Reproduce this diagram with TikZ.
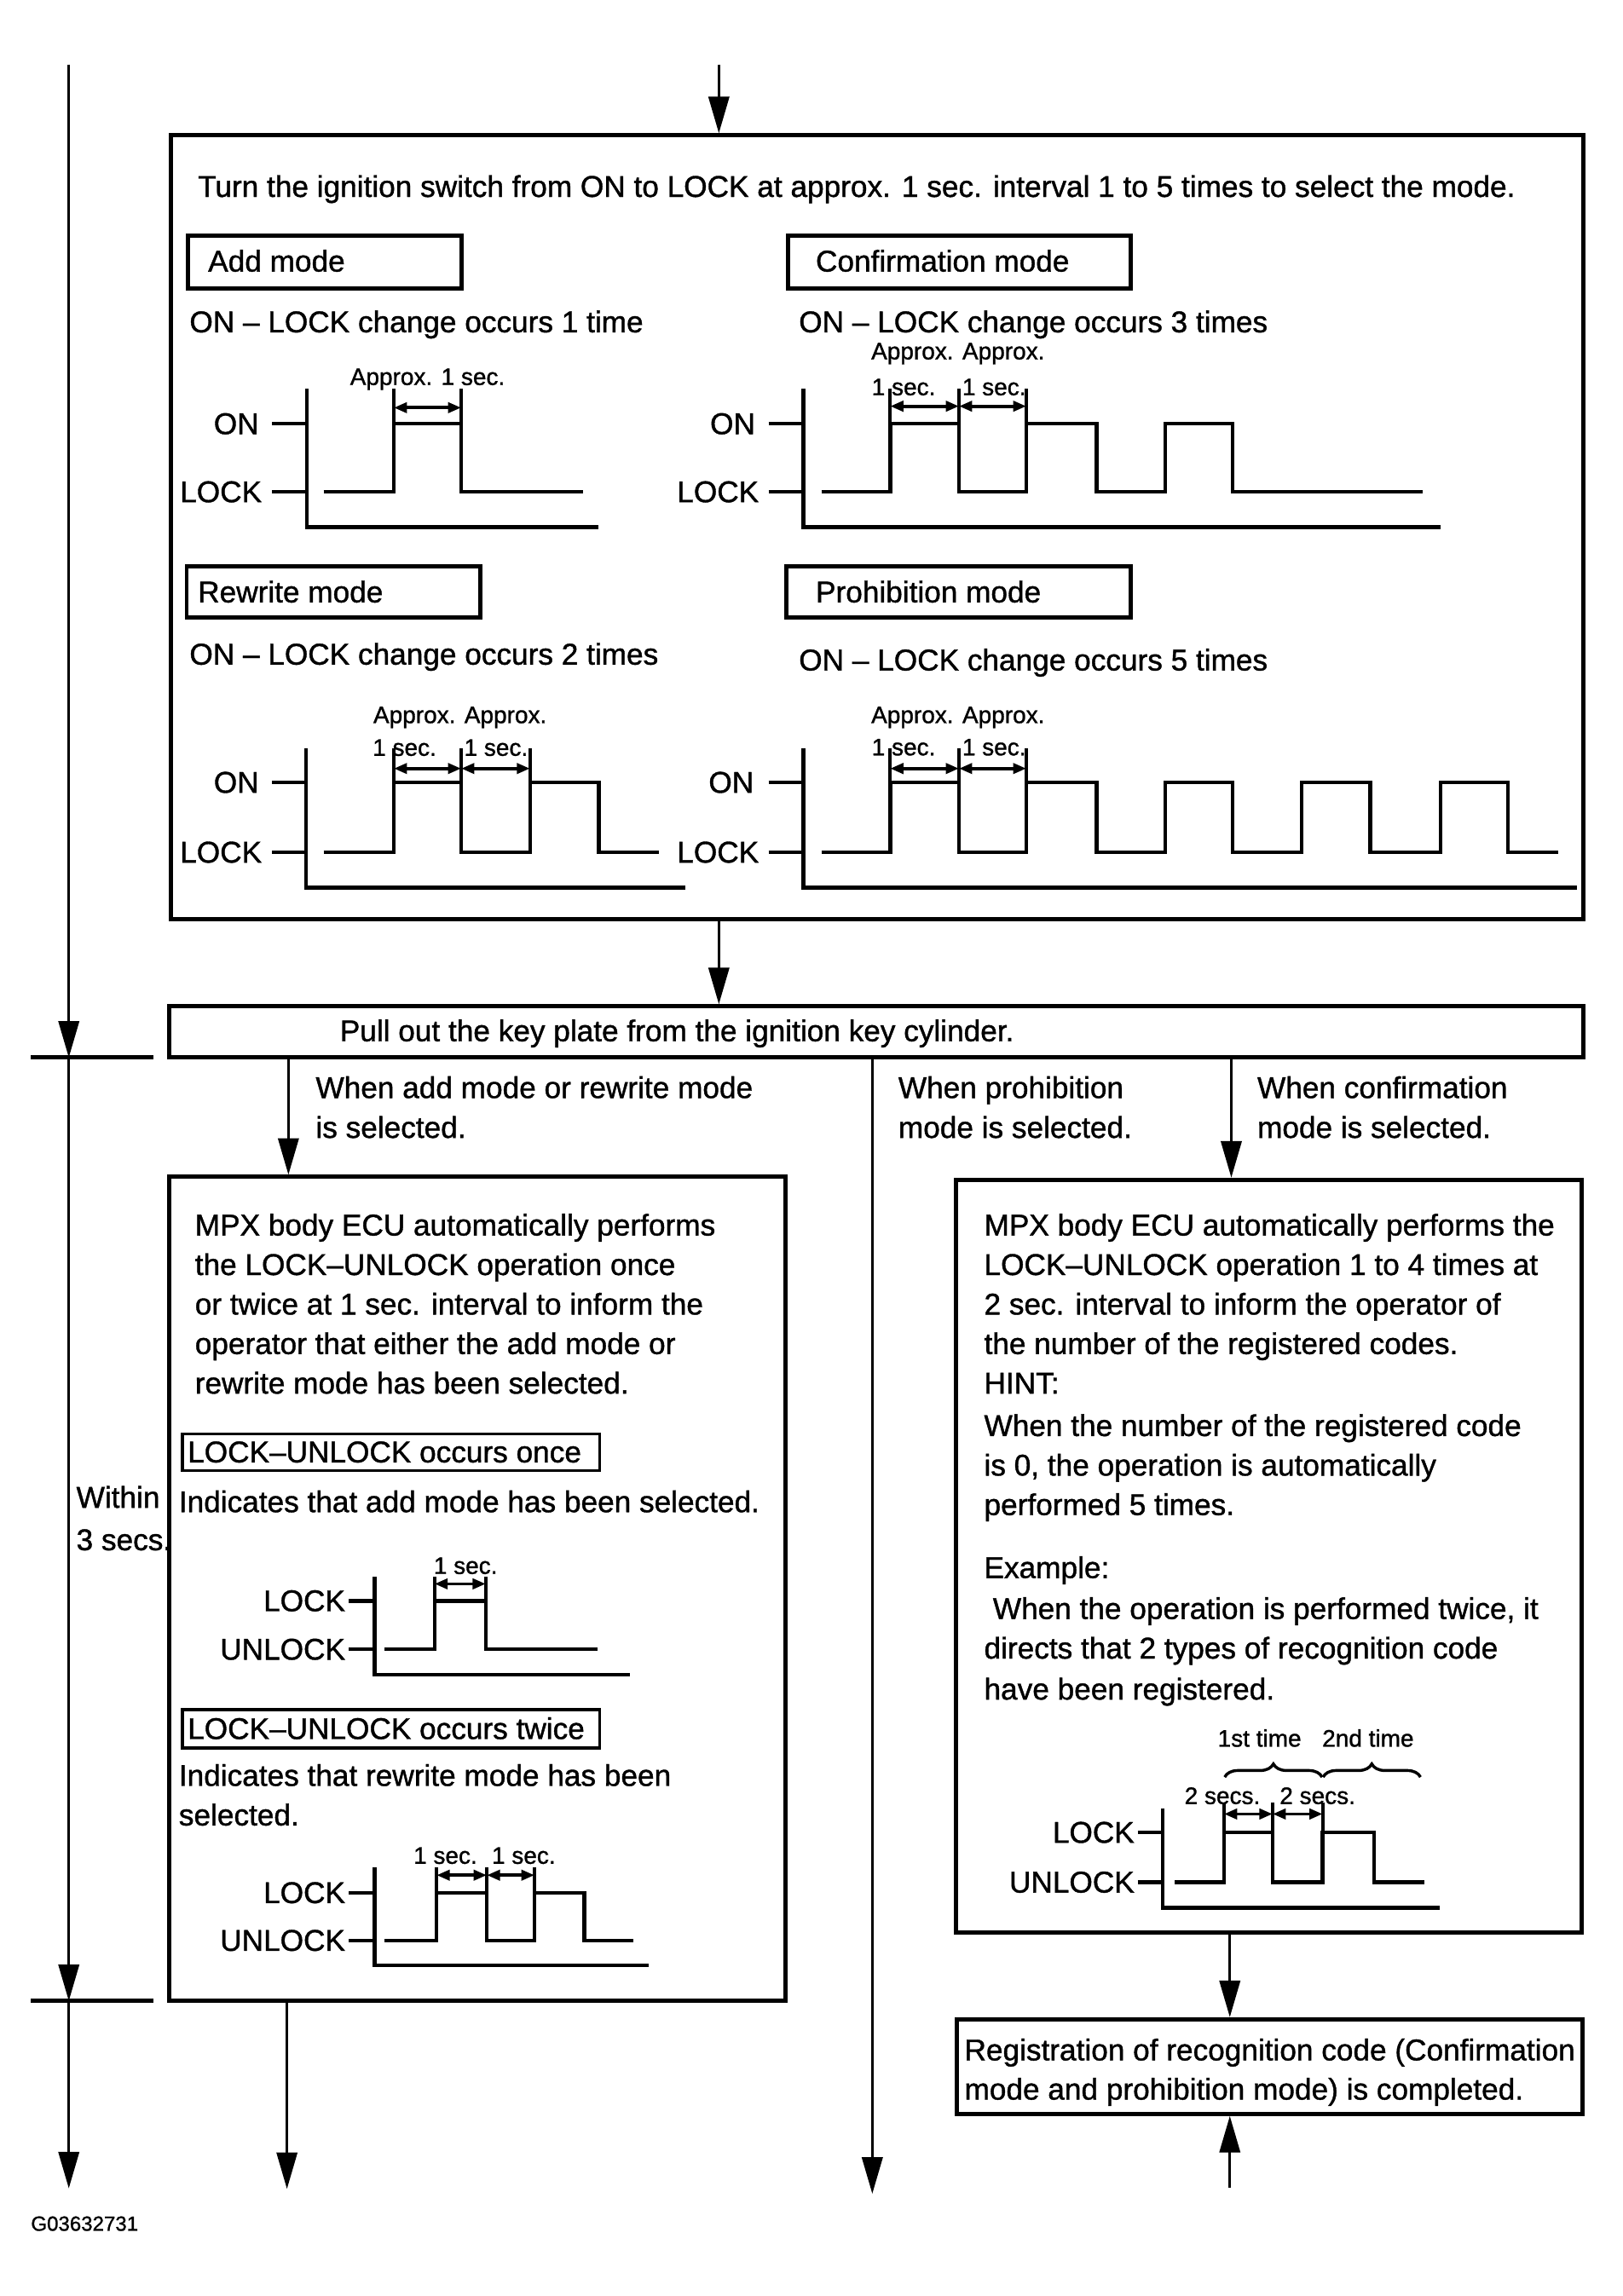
\documentclass[tikz,border=0pt]{standalone}
\usepackage{fontspec}
\setmainfont{Liberation Sans}[FakeBold=1.1]
\usetikzlibrary{arrows.meta,decorations.pathreplacing,calc}
\tikzset{
 txt/.style={font=\fontsize{20.5}{27}\selectfont, inner sep=0pt, anchor=base west},
 lbl/.style={font=\fontsize{16.3}{19}\selectfont, inner sep=0pt, anchor=base},
 wlbl/.style={font=\fontsize{20.5}{24}\selectfont, inner sep=0pt, anchor=east},
 idlbl/.style={font=\fontsize{14}{16}\selectfont, inner sep=0pt, anchor=base west},
 box/.style={draw, line width=2.9pt, inner sep=0pt, rectangle},
 sbox/.style={draw, line width=2pt, inner sep=0pt, rectangle},
 conn/.style={line width=2pt},
 arr/.style={conn, -{Triangle[length=25pt,width=14pt]}},
 tick/.style={line width=2.9pt},
 wave/.style={line width=2.6pt, line join=miter},
 dimarr/.style={line width=2.2pt, {Triangle[length=9pt,width=7pt]}-{Triangle[length=9pt,width=7pt]}},
 ext/.style={line width=2.2pt},
 brc/.style={line width=2pt, decorate, decoration={brace, amplitude=9pt}},
}
\begin{document}
\begin{tikzpicture}[x=1pt,y=-1pt]
\fill[white] (0,0) rectangle (1108,1568.5);
\useasboundingbox (0,0) rectangle (1108,1568.5);

% ---------- boxes ----------
\node[box, minimum width=965pt, minimum height=535.5pt] (main) at (599,360.25) {};
\node[box, minimum width=966pt, minimum height=35pt] (key) at (598.5,705) {};
\node[box, minimum width=421pt, minimum height=563pt] (lbox) at (326,1085.5) {};
\node[box, minimum width=427.5pt, minimum height=514pt] (rbox) at (866.75,1063) {};
\node[box, minimum width=427.5pt, minimum height=64.5pt] (reg) at (867.25,1411.75) {};
\node[box, minimum width=187pt, minimum height=36pt] (addb) at (222,179) {};
\node[box, minimum width=234.5pt, minimum height=36pt] (confb) at (655.25,179) {};
\node[box, minimum width=200.5pt, minimum height=35pt] (rewb) at (227.75,404.5) {};
\node[box, minimum width=235.5pt, minimum height=35pt] (prob) at (654.75,404.5) {};
\node[sbox, minimum width=285pt, minimum height=25pt] (onceb) at (267,992) {};
\node[sbox, minimum width=285pt, minimum height=26pt] (twiceb) at (267,1181) {};

% ---------- connectors ----------
\coordinate (L0) at (47,44);
\coordinate (L1) at (47,722.5);
\coordinate (L2) at (47,1367);
\coordinate (L3) at (47,1495);
\draw[arr] (L0) -- (L1);
\draw[arr] (L1) -- (L2);
\draw[arr] (L2) -- (L3);
\coordinate (T1a) at (21,722.5);
\coordinate (T1b) at (105,722.5);
\coordinate (T2a) at (21,1367);
\coordinate (T2b) at (105,1367);
\draw[tick] (T1a) -- (T1b);
\draw[tick] (T2a) -- (T2b);

\coordinate (top) at (491,44);
\draw[arr] (top) -- (top |- main.north);
\draw[arr] (top |- main.south) -- (top |- key.north);

\coordinate (xa) at (197,0);
\coordinate (xp) at (595.8,1498.7);
\coordinate (xr) at (841,0);
\draw[arr] (xa |- key.south) -- (xa |- lbox.north);
\draw[arr] (xp |- key.south) -- (xp);
\draw[arr] (xr |- key.south) -- (xr |- rbox.north);

\coordinate (lb) at (196,1495.4);
\draw[arr] (lb |- lbox.south) -- (lb);
\coordinate (xr2) at (840,0);
\draw[arr] (xr2 |- rbox.south) -- (xr2 |- reg.north);
\coordinate (R0) at (840,1494.4);
\draw[arr] (R0) -- (R0 |- reg.south);

% ---------- texts: main box ----------
\node[txt] (t0) at (135,134.5) {Turn the ignition switch from ON to LOCK at approx. 1 sec. interval 1 to 5 times to select the mode.};
\node[txt] (t1) at (142,185.5) {Add mode};
\node[txt] (t2) at (557,185.5) {Confirmation mode};
\node[txt] (t3) at (129.3,227) {ON -- LOCK change occurs 1 time};
\node[txt] (t4) at (545.5,227) {ON -- LOCK change occurs 3 times};
\node[txt] (t5) at (135,411.5) {Rewrite mode};
\node[txt] (t6) at (557,411.5) {Prohibition mode};
\node[txt] (t7) at (129.3,454) {ON -- LOCK change occurs 2 times};
\node[txt] (t8) at (545.5,458) {ON -- LOCK change occurs 5 times};

% ---------- waveform 1: add ----------
\node[wlbl] (w1on) at (177,289.5) {ON};
\node[wlbl] (w1lk) at (179,336) {LOCK};
\draw[wave] (209.5,265.5) -- (209.5,360) -- (409,360);
\draw[wave] (186,289.5) -- (209.5,289.5);
\draw[wave] (186,336) -- (209.5,336);
\draw[wave] (221,336) -- (269,336) -- (269,289.5) -- (315,289.5) -- (315,336) -- (398,336);
\draw[ext] (269,289.5) -- (269,265.5);
\draw[ext] (315,289.5) -- (315,265.5);
\draw[dimarr] (269,278.5) -- (315,278.5);
\node[lbl] (w1a) at (292,263) {Approx. 1 sec.};

% ---------- waveform 2: confirmation ----------
\node[wlbl] (w2on) at (516,289.5) {ON};
\node[wlbl] (w2lk) at (518.5,336) {LOCK};
\draw[wave] (548.6,265.5) -- (548.6,360) -- (983.7,360);
\draw[wave] (525,289.5) -- (548.6,289.5);
\draw[wave] (525,336) -- (548.6,336);
\draw[wave] (561,336) -- (608,336) -- (608,289.5) -- (655,289.5) -- (655,336) -- (701,336) -- (701,289.5) -- (749,289.5) -- (749,336) -- (796,336) -- (796,289.5) -- (842,289.5) -- (842,336) -- (972,336);
\draw[ext] (608,289.5) -- (608,265.5);
\draw[ext] (655,289.5) -- (655,265.5);
\draw[ext] (701,289.5) -- (701,265.5);
\draw[dimarr] (608,277.5) -- (655,277.5);
\draw[dimarr] (655,277.5) -- (701,277.5);
\node[lbl] (w2a) at (654.3,245.5) {Approx. Approx.};
\node[lbl] (w2b) at (617.2,270) {1 sec.};
\node[lbl] (w2c) at (679,270) {1 sec.};

% ---------- waveform 3: rewrite ----------
\node[wlbl] (w3on) at (177,534.5) {ON};
\node[wlbl] (w3lk) at (179,582.2) {LOCK};
\draw[wave] (209,511.4) -- (209,606.5) -- (468,606.5);
\draw[wave] (186,534.5) -- (209,534.5);
\draw[wave] (186,582.2) -- (209,582.2);
\draw[wave] (221,582.2) -- (269,582.2) -- (269,534.5) -- (315,534.5) -- (315,582.2) -- (362,582.2) -- (362,534.5) -- (409,534.5) -- (409,582.2) -- (450,582.2);
\draw[ext] (269,534.5) -- (269,511.4);
\draw[ext] (315,534.5) -- (315,511.4);
\draw[ext] (362,534.5) -- (362,511.4);
\draw[dimarr] (269,525) -- (315,525);
\draw[dimarr] (315,525) -- (362,525);
\node[lbl] (w3a) at (314.2,494) {Approx. Approx.};
\node[lbl] (w3b) at (276.3,516.3) {1 sec.};
\node[lbl] (w3c) at (338.8,516.3) {1 sec.};

% ---------- waveform 4: prohibition ----------
\node[wlbl] (w4on) at (515,534.5) {ON};
\node[wlbl] (w4lk) at (518.5,582.2) {LOCK};
\draw[wave] (548.6,511.4) -- (548.6,606.5) -- (1077,606.5);
\draw[wave] (525,534.5) -- (548.6,534.5);
\draw[wave] (525,582.2) -- (548.6,582.2);
\draw[wave] (561,582.2) -- (608,582.2) -- (608,534.5) -- (655,534.5) -- (655,582.2) -- (701,582.2) -- (701,534.5) -- (749,534.5) -- (749,582.2) -- (796,582.2) -- (796,534.5) -- (842,534.5) -- (842,582.2) -- (889,582.2) -- (889,534.5) -- (936,534.5) -- (936,582.2) -- (984,582.2) -- (984,534.5) -- (1030,534.5) -- (1030,582.2) -- (1064,582.2);
\draw[ext] (608,534.5) -- (608,511.4);
\draw[ext] (655,534.5) -- (655,511.4);
\draw[ext] (701,534.5) -- (701,511.4);
\draw[dimarr] (608,525) -- (655,525);
\draw[dimarr] (655,525) -- (701,525);
\node[lbl] (w4a) at (654.3,494) {Approx. Approx.};
\node[lbl] (w4b) at (617.2,516) {1 sec.};
\node[lbl] (w4c) at (679,516) {1 sec.};

% ---------- key plate + branch texts ----------
\node[txt] (k0) at (232,711.3) {Pull out the key plate from the ignition key cylinder.};
\node[txt] (b1) at (215.5,750.1) {When add mode or rewrite mode};
\node[txt] (b2) at (215.5,777.3) {is selected.};
\node[txt] (b3) at (613.4,750.1) {When prohibition};
\node[txt] (b4) at (613.4,777.3) {mode is selected.};
\node[txt] (b5) at (858.6,750.1) {When confirmation};
\node[txt] (b6) at (858.6,777.3) {mode is selected.};

% ---------- left result box ----------
\node[txt] (l1) at (133,844) {MPX body ECU automatically performs};
\node[txt] (l2) at (133,871) {the LOCK--UNLOCK operation once};
\node[txt] (l3) at (133,898) {or twice at 1 sec. interval to inform the};
\node[txt] (l4) at (133,925) {operator that either the add mode or};
\node[txt] (l5) at (133,952) {rewrite mode has been selected.};
\node[txt] (l6) at (128,999) {LOCK--UNLOCK occurs once};
\node[txt] (l7) at (122,1033) {Indicates that add mode has been selected.};
\node[txt] (l8) at (128,1188) {LOCK--UNLOCK occurs twice};
\node[txt] (l9) at (122,1220) {Indicates that rewrite mode has been};
\node[txt] (l10) at (122,1247) {selected.};
\node[txt] (wi1) at (52,1030) {Within};
\node[txt] (wi2) at (52,1059) {3 secs.};

% waveform 5
\node[wlbl] (w5lk) at (236,1093.6) {LOCK};
\node[wlbl] (w5ul) at (236,1126.7) {UNLOCK};
\draw[wave] (256,1077) -- (256,1144) -- (430.4,1144);
\draw[wave] (238.3,1093.6) -- (256,1093.6);
\draw[wave] (238.3,1126.7) -- (256,1126.7);
\draw[wave] (262.6,1126.7) -- (296.8,1126.7) -- (296.8,1093.6) -- (331.8,1093.6) -- (331.8,1126.7) -- (408.2,1126.7);
\draw[ext] (296.8,1093.6) -- (296.8,1077);
\draw[ext] (331.8,1093.6) -- (331.8,1077);
\draw[dimarr] (296.8,1082) -- (331.8,1082);
\node[lbl] (w5a) at (318,1075.2) {1 sec.};

% waveform 6
\node[wlbl] (w6lk) at (236,1293) {LOCK};
\node[wlbl] (w6ul) at (236,1325.6) {UNLOCK};
\draw[wave] (256,1275.5) -- (256,1342.7) -- (443.2,1342.7);
\draw[wave] (238.3,1293) -- (256,1293);
\draw[wave] (238.3,1325.6) -- (256,1325.6);
\draw[wave] (262.8,1325.6) -- (298.2,1325.6) -- (298.2,1293) -- (332.5,1293) -- (332.5,1325.6) -- (365.1,1325.6) -- (365.1,1293) -- (399.2,1293) -- (399.2,1325.6) -- (432.6,1325.6);
\draw[ext] (298.2,1293) -- (298.2,1275.4);
\draw[ext] (332.5,1293) -- (332.5,1275.4);
\draw[ext] (365.1,1293) -- (365.1,1275.4);
\draw[dimarr] (298.2,1281) -- (332.5,1281);
\draw[dimarr] (332.5,1281) -- (365.1,1281);
\node[lbl] (w6a) at (304.2,1273.2) {1 sec.};
\node[lbl] (w6b) at (357.7,1273.2) {1 sec.};

% ---------- right result box ----------
\node[txt] (r1) at (672,844) {MPX body ECU automatically performs the};
\node[txt] (r2) at (672,871) {LOCK--UNLOCK operation 1 to 4 times at};
\node[txt] (r3) at (672,898) {2 sec. interval to inform the operator of};
\node[txt] (r4) at (672,925) {the number of the registered codes.};
\node[txt] (r5) at (672,952) {HINT:};
\node[txt] (r6) at (672,981) {When the number of the registered code};
\node[txt] (r7) at (672,1008) {is 0, the operation is automatically};
\node[txt] (r8) at (672,1035) {performed 5 times.};
\node[txt] (r9) at (672,1078) {Example:};
\node[txt] (r10) at (678,1106) {When the operation is performed twice, it};
\node[txt] (r11) at (672,1133) {directs that 2 types of recognition code};
\node[txt] (r12) at (672,1161) {have been registered.};

% waveform 7
\node[lbl] (w7t1) at (860.3,1193.2) {1st time};
\node[lbl] (w7t2) at (934.4,1193.2) {2nd time};
\draw[brc] (836.5,1214) -- (903,1214);
\draw[brc] (903.7,1214) -- (970.2,1214);
\node[lbl] (w7s1) at (834.9,1232.4) {2 secs.};
\node[lbl] (w7s2) at (899.9,1232.4) {2 secs.};
\node[wlbl] (w7lk) at (775,1251.8) {LOCK};
\node[wlbl] (w7ul) at (775,1285.8) {UNLOCK};
\draw[wave] (794,1235.3) -- (794,1303.3) -- (983.6,1303.3);
\draw[wave] (777,1251.8) -- (794,1251.8);
\draw[wave] (777,1285.8) -- (794,1285.8);
\draw[wave] (802.4,1285.8) -- (836,1285.8) -- (836,1251.8) -- (869.2,1251.8) -- (869.2,1285.8) -- (903.4,1285.8) -- (903.4,1251.8) -- (938.4,1251.8) -- (938.4,1285.8) -- (972.6,1285.8);
\draw[ext] (836,1251.8) -- (836,1231.4);
\draw[ext] (869.2,1251.8) -- (869.2,1231.4);
\draw[ext] (903.4,1251.8) -- (903.4,1231.4);
\draw[dimarr] (836,1239.2) -- (869.2,1239.2);
\draw[dimarr] (869.2,1239.2) -- (903.4,1239.2);

% ---------- registration box ----------
\node[txt] (g1) at (658.6,1407.5) {Registration of recognition code (Confirmation};
\node[txt] (g2) at (658.6,1434.3) {mode and prohibition mode) is completed.};

\node[idlbl] (id) at (21,1523.9) {G03632731};
\end{tikzpicture}
\end{document}
